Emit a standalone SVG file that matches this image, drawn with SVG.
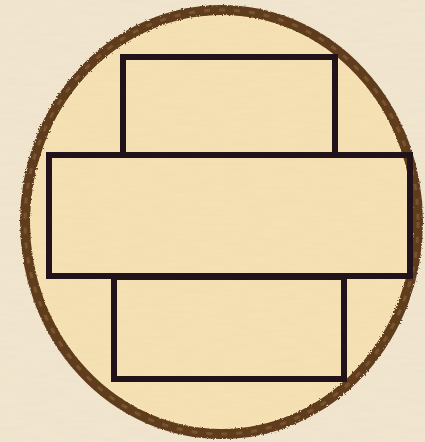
<svg xmlns="http://www.w3.org/2000/svg" width="425" height="442" viewBox="0 0 425 442">
  <defs>
    <filter id="paper" x="0" y="0" width="100%" height="100%">
      <feTurbulence type="fractalNoise" baseFrequency="0.04 0.3" numOctaves="2" seed="3" result="n"/>
      <feColorMatrix in="n" type="matrix" values="0 0 0 0 0.55  0 0 0 0 0.45  0 0 0 0 0.3  0 0 0 0.1 0" result="t"/>
      <feComposite in="t" in2="SourceGraphic" operator="atop"/>
    </filter>
    <filter id="rough" x="-5%" y="-5%" width="110%" height="110%">
      <feTurbulence type="fractalNoise" baseFrequency="0.6" numOctaves="2" seed="7" result="n"/>
      <feDisplacementMap in="SourceGraphic" in2="n" scale="3"/>
    </filter>
  </defs>
  <style>
    .frame { fill: #f6e2b3; stroke: #5f3c1e; stroke-width: 10; }
    .box { fill: none; stroke: #22121a; stroke-width: 6; stroke-linejoin: miter; }
  </style>
  <rect x="0" y="0" width="425" height="442" fill="#f2e6d0" filter="url(#paper)"/>
  <g id="circle">
    <ellipse cx="221.5" cy="222" rx="196.5" ry="212" class="frame" filter="url(#rough)"/>
    <ellipse cx="221.5" cy="222" rx="196.5" ry="212" fill="none" stroke="#8a6238" stroke-width="3" stroke-dasharray="6 9" opacity="0.6"/>
    <ellipse cx="221.5" cy="222" rx="190" ry="205" fill="#f6e2b3" filter="url(#paper)"/>
  </g>
  <g id="top-rect">
    <rect x="123" y="57" width="212" height="98" class="box"/>
  </g>
  <g id="bottom-rect">
    <rect x="114" y="277" width="230" height="102" class="box"/>
  </g>
  <g id="middle-rect">
    <rect x="49" y="155" width="361" height="121" class="box"/>
  </g>
  <g id="connectors"></g>
</svg>
